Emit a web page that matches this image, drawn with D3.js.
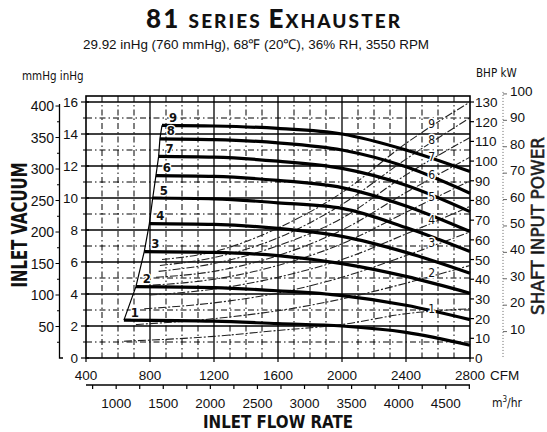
<!DOCTYPE html>
<html><head><meta charset="utf-8">
<script src="https://cdn.jsdelivr.net/npm/d3@7"></script>
<style>
html,body{margin:0;padding:0;background:#fff;}
svg{display:block;}
text{font-family:'Liberation Sans', Arial, sans-serif; fill:#111;}
</style></head><body>
<svg id="chart" width="547" height="432"></svg>
<script>
// Number of stages for each curve
const stages = [1, 2, 3, 4, 5, 6, 7, 8, 9];
// Flow (CFM) at the surge limit, where each curve begins
const surgeFlowCfm = [637, 712, 764, 796, 817, 837, 854, 862, 875];
// Flow points (CFM) shared by every curve after the surge point
const flowCfm = [1200, 1600, 2000, 2400, 2800];
// Inlet vacuum (inHg) at surge and along flowCfm
const vacuumAtSurge = [2.37, 4.46, 6.65, 8.4, 10.0, 11.4, 12.6, 13.7, 14.54];
const vacuumInHg = [
  [2.3, 2.15, 2.0, 1.6, 0.8],
  [4.4, 4.2, 3.9, 3.3, 2.4],
  [6.6, 6.4, 5.9, 5.1, 4.05],
  [8.35, 8.1, 7.6, 6.6, 5.3],
  [9.95, 9.7, 9.35, 8.15, 6.65],
  [11.35, 11.1, 10.65, 9.5, 7.9],
  [12.55, 12.3, 11.85, 10.8, 9.15],
  [13.65, 13.45, 13.0, 11.95, 10.3],
  [14.5, 14.35, 14.0, 13.0, 11.65]
];
// Shaft input power (BHP) at surge and along flowCfm
const powerAtSurge = [8.5, 17, 25, 32, 37, 41, 44, 47, 50];
const powerBhp = [
  [11, 14, 17, 22.5, 25],
  [20, 24, 30, 38, 47],
  [28, 33, 41, 52, 64],
  [35, 41, 50, 63, 77],
  [40, 47, 58, 74, 90],
  [44, 52, 65, 84, 102],
  [48, 57, 71, 93, 112],
  [51, 61, 78, 101, 122],
  [54, 66, 84, 109, 130]
];
// Axis ticks
const cfmTicks = [400, 800, 1200, 1600, 2000, 2400, 2800];
const inHgTicks = [0, 2, 4, 6, 8, 10, 12, 14, 16];
const mmHgTicks = [50, 100, 150, 200, 250, 300, 350, 400];
const bhpTicks = [0, 10, 20, 30, 40, 50, 60, 70, 80, 90, 100, 110, 120, 130];
const kwTicks = [10, 20, 30, 40, 50, 60, 70, 80, 90, 100];
const m3hTicks = [1000, 1500, 2000, 2500, 3000, 3500, 4000, 4500];

const CFM_TO_M3H = 1.699, INHG_TO_MMHG = 25.4, BHP_PER_KW = 1.341;

const svg = d3.select('#chart');
const L = 86, R = 470, B = 358, T16 = 102, TOP = 96;

const x = d3.scaleLinear().domain([400, 2800]).range([L, R]);
const yIn = d3.scaleLinear().domain([0, 16]).range([B, T16]);
const yMm = d3.scaleLinear().domain([0, 16 * INHG_TO_MMHG]).range([B, T16]);
const yBhp = d3.scaleLinear().domain([0, 130]).range([B, T16]);
const yKw = d3.scaleLinear().domain([0, 130 / BHP_PER_KW]).range([B, T16]);
const xM3 = d3.scaleLinear().domain([400 * CFM_TO_M3H, 2800 * CFM_TO_M3H]).range([L, R]);

const narrow = "'Liberation Sans Narrow','DejaVu Sans Condensed','Liberation Sans',Arial,sans-serif";

// ---- Title block
const title = svg.append('text').attr('x', 273).attr('y', 28).attr('text-anchor', 'middle')
  .attr('textLength', 254).attr('lengthAdjust', 'spacing')
  .style('font-family', "Lato,'Open Sans',sans-serif").style('font-weight', 900);
title.append('tspan').attr('font-size', 26).text('81 ');
title.append('tspan').attr('font-size', 19).text('SERIES ');
title.append('tspan').attr('font-size', 26).text('E');
title.append('tspan').attr('font-size', 19).text('XHAUSTER');

svg.append('text').attr('x', 256).attr('y', 49).attr('text-anchor', 'middle')
  .attr('font-size', 13.5).attr('textLength', 346).attr('lengthAdjust', 'spacingAndGlyphs')
  .text('29.92 inHg (760 mmHg), 68\u2109 (20\u2103), 36% RH, 3550 RPM');

// ---- Grid
const grid = svg.append('g');
d3.range(500, 2800, 100).forEach(f => {
  const major = f % 400 === 0;
  grid.append('line').attr('x1', x(f)).attr('x2', x(f)).attr('y1', TOP).attr('y2', B)
    .attr('stroke', '#000').attr('stroke-width', major ? 1.3 : 1)
    .attr('stroke-dasharray', major ? null : '6,3,1.5,3');
});
d3.range(1, 16.5, 1).forEach(v => {
  const major = v % 2 === 0;
  grid.append('line').attr('x1', L).attr('x2', R).attr('y1', yIn(v)).attr('y2', yIn(v))
    .attr('stroke', '#000').attr('stroke-width', major ? 1.3 : 1)
    .attr('stroke-dasharray', major ? null : '6,3,1.5,3');
});
// plot frame
svg.append('rect').attr('x', L).attr('y', TOP).attr('width', R - L).attr('height', B - TOP)
  .attr('fill', 'none').attr('stroke', '#000').attr('stroke-width', 1.6);

// ---- Power curves (thin dashed, BHP scale)
const powerLine = d3.line().x(d => x(d[0])).y(d => yBhp(d[1])).curve(d3.curveMonotoneX);
const powerPts = stages.map((s, i) => [[surgeFlowCfm[i], powerAtSurge[i]]]
  .concat(flowCfm.map((f, j) => [f, powerBhp[i][j]])));
svg.append('g').selectAll('path').data(powerPts).join('path')
  .attr('d', powerLine).attr('fill', 'none').attr('stroke', '#222')
  .attr('stroke-width', 1.1).attr('stroke-dasharray', '8,2,2,2');

// ---- Vacuum curves (thick)
const vacLine = d3.line().x(d => x(d[0])).y(d => yIn(d[1])).curve(d3.curveMonotoneX);
const vacPts = stages.map((s, i) => [[surgeFlowCfm[i], vacuumAtSurge[i]]]
  .concat(flowCfm.map((f, j) => [f, vacuumInHg[i][j]])));
svg.append('g').selectAll('path').data(vacPts).join('path')
  .attr('d', vacLine).attr('fill', 'none').attr('stroke', '#000').attr('stroke-width', 3.2);

// surge limit line joining the start of each curve
svg.append('path')
  .attr('d', d3.line().x(d => x(d[0])).y(d => yIn(d[1]))(stages.map((s, i) => [surgeFlowCfm[i], vacuumAtSurge[i]])))
  .attr('fill', 'none').attr('stroke', '#000').attr('stroke-width', 1.2);

// stage labels on vacuum curves
svg.append('g').selectAll('text').data(stages).join('text')
  .attr('x', (s, i) => x(surgeFlowCfm[i]) + 11)
  .attr('y', (s, i) => yIn(vacuumAtSurge[i]) - 3.5)
  .attr('text-anchor', 'middle').attr('font-size', 13).style('font-weight', 'bold')
  .style('font-family', narrow)
  .attr('stroke', '#fff').attr('stroke-width', 2.5).style('paint-order', 'stroke')
  .text(s => s);

// stage labels on power curves
const labelFlow = 2560;
svg.append('g').selectAll('text').data(stages).join('text')
  .attr('x', x(labelFlow))
  .attr('y', (s, i) => {
    const p = d3.scaleLinear().domain([surgeFlowCfm[i]].concat(flowCfm))
      .range([powerAtSurge[i]].concat(powerBhp[i]));
    return yBhp(p(labelFlow)) + 1;
  })
  .attr('text-anchor', 'middle').attr('font-size', 12).style('font-family', narrow)
  .attr('fill', '#333').attr('stroke', '#fff').attr('stroke-width', 3).style('paint-order', 'stroke')
  .text(s => s);

// ---- Left axes: inHg and mmHg
const axL = svg.append('g');
inHgTicks.forEach(v => {
  axL.append('line').attr('x1', L - 5).attr('x2', L + 3).attr('y1', yIn(v)).attr('y2', yIn(v))
    .attr('stroke', '#000').attr('stroke-width', 1.2);
  axL.append('text').attr('x', 78).attr('y', yIn(v) + 5).attr('text-anchor', 'end')
    .attr('font-size', 13.5).text(v);
});
d3.range(1, 16, 2).forEach(v => {
  axL.append('line').attr('x1', L - 3).attr('x2', L).attr('y1', yIn(v)).attr('y2', yIn(v))
    .attr('stroke', '#000').attr('stroke-width', 1);
});
axL.append('path').attr('d', `M63,${B}H59.5V${yMm(400) - 2}`).attr('fill', 'none')
  .attr('stroke', '#000').attr('stroke-width', 1.3);
d3.range(25, 401, 25).forEach(v => {
  const major = v % 50 === 0;
  axL.append('line').attr('x1', 59.5 - (major ? 4 : 2.5)).attr('x2', 59.5)
    .attr('y1', yMm(v)).attr('y2', yMm(v)).attr('stroke', '#000').attr('stroke-width', 1);
});
mmHgTicks.forEach(v => {
  axL.append('text').attr('x', 54).attr('y', yMm(v) + 5).attr('text-anchor', 'end')
    .attr('font-size', 14).text(v);
});
svg.append('text').attr('x', 22).attr('y', 80).attr('font-size', 11.5).style('font-family', narrow)
  .text('mmHg  inHg');
svg.append('text').attr('transform', 'translate(27,225) rotate(-90)').attr('text-anchor', 'middle')
  .attr('font-size', 22).style('font-weight', 'bold').style('font-family', narrow)
  .attr('textLength', 125).attr('lengthAdjust', 'spacingAndGlyphs').text('INLET VACUUM');

// ---- Right axes: BHP and kW
const axR = svg.append('g');
bhpTicks.forEach(v => {
  axR.append('line').attr('x1', R).attr('x2', R + 4).attr('y1', yBhp(v)).attr('y2', yBhp(v))
    .attr('stroke', '#000').attr('stroke-width', 1.2);
  axR.append('text').attr('x', 475).attr('y', yBhp(v) + 5).attr('font-size', 13.5).text(v);
});
axR.append('line').attr('x1', 503).attr('x2', 503).attr('y1', yKw(100) - 2).attr('y2', B)
  .attr('stroke', '#666').attr('stroke-width', 1).attr('stroke-dasharray', '1,2');
kwTicks.forEach(v => {
  axR.append('line').attr('x1', 503).attr('x2', 507).attr('y1', yKw(v)).attr('y2', yKw(v))
    .attr('stroke', '#555').attr('stroke-width', 0.9);
  axR.append('text').attr('x', 510).attr('y', yKw(v) + 2).attr('font-size', 13.5).text(v);
});
svg.append('text').attr('x', 476).attr('y', 77).attr('font-size', 11.5).style('font-family', narrow)
  .text('BHP  kW');
svg.append('text').attr('transform', 'translate(544,226) rotate(-90)').attr('text-anchor', 'middle')
  .attr('font-size', 18).style('font-family', narrow)
  .attr('fill', '#ccc').attr('stroke', '#333').attr('stroke-width', 0.6)
  .attr('textLength', 178).attr('lengthAdjust', 'spacingAndGlyphs').text('SHAFT INPUT POWER');

// ---- Bottom axes: CFM and m3/hr
const axB = svg.append('g');
cfmTicks.forEach(v => {
  axB.append('line').attr('x1', x(v)).attr('x2', x(v)).attr('y1', B).attr('y2', B + 4)
    .attr('stroke', '#000').attr('stroke-width', 1.2);
  axB.append('text').attr('x', x(v)).attr('y', 380).attr('text-anchor', 'middle')
    .attr('font-size', 13.5).text(v);
});
svg.append('text').attr('x', 490).attr('y', 380).attr('font-size', 13.5).text('CFM');

axB.append('line').attr('x1', L).attr('x2', R).attr('y1', 385).attr('y2', 385)
  .attr('stroke', '#000').attr('stroke-width', 1.6);
d3.range(750, 4751, 250).forEach(v => {
  axB.append('line').attr('x1', xM3(v)).attr('x2', xM3(v)).attr('y1', 385).attr('y2', 389)
    .attr('stroke', '#000').attr('stroke-width', 1.2);
});
m3hTicks.forEach(v => {
  axB.append('text').attr('x', xM3(v)).attr('y', 408).attr('text-anchor', 'middle')
    .attr('font-size', 13.5).text(v);
});
const m3 = svg.append('text').attr('x', 492).attr('y', 407).attr('font-size', 12).style('font-family', narrow);
m3.append('tspan').text('m');
m3.append('tspan').attr('font-size', 8).attr('dy', -5).text('3');
m3.append('tspan').attr('dy', 5).text('/hr');

svg.append('text').attr('x', 278).attr('y', 428).attr('text-anchor', 'middle')
  .attr('font-size', 18).style('font-weight', 'bold').style('font-family', narrow)
  .attr('textLength', 150).attr('lengthAdjust', 'spacingAndGlyphs').text('INLET FLOW RATE');
</script>
</body></html>
